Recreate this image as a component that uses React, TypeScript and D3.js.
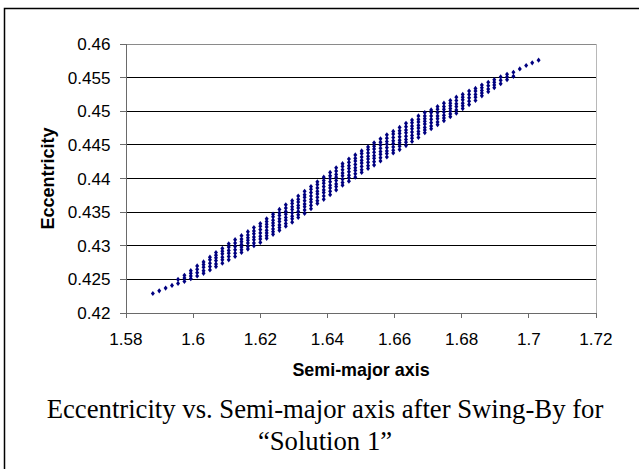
import React from "react";
import * as d3 from "d3";

const W = 639;
const H = 469;

// X axis (semi-major axis) ticks
const xTicks = [1.58, 1.6, 1.62, 1.64, 1.66, 1.68, 1.7, 1.72];
const xTickLabels = ["1.58", "1.6", "1.62", "1.64", "1.66", "1.68", "1.7", "1.72"];
// Y axis (eccentricity) ticks
const yTicks = [0.42, 0.425, 0.43, 0.435, 0.44, 0.445, 0.45, 0.455, 0.46];
const yTickLabels = ["0.42", "0.425", "0.43", "0.435", "0.44", "0.445", "0.45", "0.455", "0.46"];

// Semi-major axis of each column of solutions
const columnSemiMajor = [
  1.5880, 1.5899, 1.5918, 1.5937, 1.5955, 1.5974, 1.5993, 1.6012, 1.6031, 1.6050,
  1.6068, 1.6087, 1.6106, 1.6125, 1.6144, 1.6163, 1.6181, 1.6200, 1.6219, 1.6238,
  1.6257, 1.6276, 1.6295, 1.6313, 1.6332, 1.6351, 1.6370, 1.6389, 1.6408, 1.6426,
  1.6445, 1.6464, 1.6483, 1.6502, 1.6521, 1.6539, 1.6558, 1.6577, 1.6596, 1.6615,
  1.6634, 1.6652, 1.6671, 1.6690, 1.6709, 1.6728, 1.6747, 1.6766, 1.6784, 1.6803,
  1.6822, 1.6841, 1.6860, 1.6879, 1.6897, 1.6916, 1.6935, 1.6954, 1.6973, 1.6992,
  1.7010, 1.7029,
];

// Eccentricity values in each column
const columnEccentricity = [
  [0.4229],
  [0.4233],
  [0.4237],
  [0.4241],
  [0.4250, 0.4244],
  [0.4256, 0.4252, 0.4247],
  [0.4263, 0.4259, 0.4255, 0.4251],
  [0.4270, 0.4265, 0.4260, 0.4255],
  [0.4276, 0.4272, 0.4268, 0.4263, 0.4259],
  [0.4283, 0.4279, 0.4274, 0.4269, 0.4264],
  [0.4290, 0.4286, 0.4282, 0.4278, 0.4273, 0.4269],
  [0.4296, 0.4292, 0.4288, 0.4283, 0.4279, 0.4274],
  [0.4303, 0.4298, 0.4293, 0.4289, 0.4284, 0.4279],
  [0.4309, 0.4304, 0.4299, 0.4294, 0.4289, 0.4284],
  [0.4315, 0.4310, 0.4306, 0.4302, 0.4298, 0.4294, 0.4290],
  [0.4321, 0.4316, 0.4312, 0.4308, 0.4304, 0.4299, 0.4295],
  [0.4327, 0.4322, 0.4318, 0.4313, 0.4309, 0.4304, 0.4300],
  [0.4333, 0.4329, 0.4324, 0.4319, 0.4314, 0.4310, 0.4305],
  [0.4340, 0.4336, 0.4332, 0.4328, 0.4323, 0.4319, 0.4315, 0.4311],
  [0.4347, 0.4343, 0.4338, 0.4334, 0.4330, 0.4325, 0.4321, 0.4317],
  [0.4354, 0.4349, 0.4345, 0.4340, 0.4336, 0.4331, 0.4327, 0.4323],
  [0.4361, 0.4356, 0.4351, 0.4347, 0.4342, 0.4338, 0.4333, 0.4329],
  [0.4367, 0.4363, 0.4358, 0.4354, 0.4349, 0.4344, 0.4340, 0.4335],
  [0.4374, 0.4369, 0.4365, 0.4360, 0.4356, 0.4351, 0.4346, 0.4342],
  [0.4381, 0.4376, 0.4372, 0.4367, 0.4362, 0.4358, 0.4353, 0.4348],
  [0.4388, 0.4384, 0.4379, 0.4374, 0.4369, 0.4365, 0.4360, 0.4355],
  [0.4395, 0.4391, 0.4386, 0.4381, 0.4377, 0.4372, 0.4367, 0.4363],
  [0.4402, 0.4397, 0.4393, 0.4388, 0.4383, 0.4379, 0.4374, 0.4369],
  [0.4409, 0.4404, 0.4400, 0.4395, 0.4390, 0.4386, 0.4381, 0.4376],
  [0.4416, 0.4411, 0.4406, 0.4402, 0.4397, 0.4392, 0.4388, 0.4383],
  [0.4422, 0.4418, 0.4413, 0.4408, 0.4404, 0.4399, 0.4394, 0.4390],
  [0.4429, 0.4424, 0.4419, 0.4415, 0.4410, 0.4405, 0.4401, 0.4396],
  [0.4435, 0.4430, 0.4426, 0.4421, 0.4416, 0.4412, 0.4407, 0.4402],
  [0.4441, 0.4437, 0.4432, 0.4427, 0.4423, 0.4418, 0.4413, 0.4409],
  [0.4447, 0.4443, 0.4438, 0.4433, 0.4429, 0.4424, 0.4419, 0.4415],
  [0.4453, 0.4448, 0.4444, 0.4439, 0.4434, 0.4430, 0.4425, 0.4420],
  [0.4459, 0.4454, 0.4450, 0.4445, 0.4440, 0.4436, 0.4431, 0.4426],
  [0.4465, 0.4460, 0.4455, 0.4451, 0.4446, 0.4441, 0.4437, 0.4432],
  [0.4470, 0.4466, 0.4461, 0.4456, 0.4452, 0.4447, 0.4442, 0.4438],
  [0.4476, 0.4471, 0.4467, 0.4462, 0.4457, 0.4453, 0.4448, 0.4443],
  [0.4482, 0.4477, 0.4472, 0.4468, 0.4463, 0.4458, 0.4454, 0.4449],
  [0.4487, 0.4483, 0.4478, 0.4474, 0.4469, 0.4464, 0.4460, 0.4455],
  [0.4493, 0.4488, 0.4484, 0.4479, 0.4475, 0.4470, 0.4466, 0.4461],
  [0.4498, 0.4493, 0.4489, 0.4485, 0.4481, 0.4476, 0.4472, 0.4468],
  [0.4502, 0.4498, 0.4493, 0.4488, 0.4483, 0.4478, 0.4474],
  [0.4507, 0.4503, 0.4498, 0.4493, 0.4489, 0.4484, 0.4480],
  [0.4512, 0.4507, 0.4503, 0.4499, 0.4494, 0.4490, 0.4486],
  [0.4516, 0.4512, 0.4508, 0.4504, 0.4500, 0.4496, 0.4492],
  [0.4521, 0.4516, 0.4511, 0.4507, 0.4502, 0.4497],
  [0.4525, 0.4521, 0.4517, 0.4512, 0.4508, 0.4504],
  [0.4530, 0.4525, 0.4520, 0.4515, 0.4510],
  [0.4534, 0.4530, 0.4525, 0.4521, 0.4516],
  [0.4539, 0.4535, 0.4531, 0.4527, 0.4523],
  [0.4543, 0.4538, 0.4533, 0.4529],
  [0.4547, 0.4543, 0.4539, 0.4535],
  [0.4551, 0.4546, 0.4541],
  [0.4555, 0.4551, 0.4547],
  [0.4558, 0.4552],
  [0.4563],
  [0.4568],
  [0.4572],
  [0.4576],
];

const xTitle = "Semi-major axis";
const yTitle = "Eccentricity";
const captionLines = ["Eccentricity vs. Semi-major axis after Swing-By for", "\u201CSolution 1\u201D"];

const SANS = "'Liberation Sans', Arial, Helvetica, sans-serif";
const SERIF = "'Liberation Serif', 'Times New Roman', Times, serif";

export default function App() {
  const plotLeft = 126;
  const plotRight = 596;
  const plotTop = 44;
  const plotBottom = 313;

  const x = d3.scaleLinear().domain([1.58, 1.72]).range([plotLeft, plotRight]);
  const y = d3.scaleLinear().domain([0.42, 0.46]).range([plotBottom, plotTop]);

  const points = columnSemiMajor.flatMap((a, i) =>
    columnEccentricity[i].map((e) => ({ a, e }))
  );

  const rx = 2.0;
  const ry = 2.6;
  const diamond = `M0,${-ry}L${rx},0L0,${ry}L${-rx},0Z`;

  return (
    <div style={{ position: "absolute", left: 0, top: 0 }}>
      <svg width={W} height={H} viewBox={`0 0 ${W} ${H}`} style={{ display: "block", background: "#fff" }}>
        {/* outer frame */}
        <rect x={4.5} y={8.5} width={720} height={600} fill="#fff" stroke="#000" strokeWidth={1.5} />

        {/* plot area */}
        <rect x={plotLeft} y={plotTop} width={plotRight - plotLeft} height={plotBottom - plotTop} fill="#fff" />

        {/* gridlines */}
        <g shapeRendering="crispEdges">
          {yTicks.slice(1, -1).map((t) => (
            <line key={t} x1={plotLeft} x2={plotRight} y1={y(t)} y2={y(t)} stroke="#000" strokeWidth={1} />
          ))}
          {/* plot border top and right */}
          <line x1={plotLeft} x2={plotRight} y1={plotTop} y2={plotTop} stroke="#8a8a8a" strokeWidth={1} />
          <line x1={plotRight} x2={plotRight} y1={plotTop} y2={plotBottom} stroke="#b8b8b8" strokeWidth={1} />
          {/* axes */}
          <line x1={plotLeft} x2={plotLeft} y1={plotTop} y2={plotBottom} stroke="#6a6a6a" strokeWidth={1} />
          <line x1={plotLeft} x2={plotRight} y1={plotBottom} y2={plotBottom} stroke="#6a6a6a" strokeWidth={1} />
          {yTicks.map((t) => (
            <line key={"yt" + t} x1={plotLeft - 6} x2={plotLeft} y1={y(t)} y2={y(t)} stroke="#6a6a6a" strokeWidth={1} />
          ))}
          {xTicks.map((t) => (
            <line key={"xt" + t} x1={x(t)} x2={x(t)} y1={plotBottom} y2={plotBottom + 5} stroke="#6a6a6a" strokeWidth={1} />
          ))}
        </g>

        {/* tick labels */}
        <g fontFamily={SANS} fontSize={17.1} fill="#000">
          {yTicks.map((t, i) => (
            <text key={"yl" + t} x={110.5} y={y(t) + 6.1} textAnchor="end">
              {yTickLabels[i]}
            </text>
          ))}
          {xTicks.map((t, i) => (
            <text key={"xl" + t} x={x(t)} y={345} textAnchor="middle">
              {xTickLabels[i]}
            </text>
          ))}
        </g>

        {/* axis titles */}
        <text x={(plotLeft + plotRight) / 2} y={375.5} textAnchor="middle" fontFamily={SANS} fontWeight="bold" fontSize={17.9}>
          {xTitle}
        </text>
        <text
          transform={`translate(53.5,${(plotTop + plotBottom) / 2}) rotate(-90)`}
          textAnchor="middle"
          fontFamily={SANS}
          fontWeight="bold"
          fontSize={18}
        >
          {yTitle}
        </text>

        {/* data points */}
        <g fill="#000080">
          {points.map((p, i) => (
            <path key={i} d={diamond} transform={`translate(${x(p.a)},${y(p.e)})`} />
          ))}
        </g>

        {/* caption */}
        <g fontFamily={SERIF} fontSize={26.7} fill="#000" textAnchor="middle">
          {captionLines.map((line, i) => (
            <text key={i} x={325} y={418.3 + i * 32}>
              {line}
            </text>
          ))}
        </g>
      </svg>
    </div>
  );
}
